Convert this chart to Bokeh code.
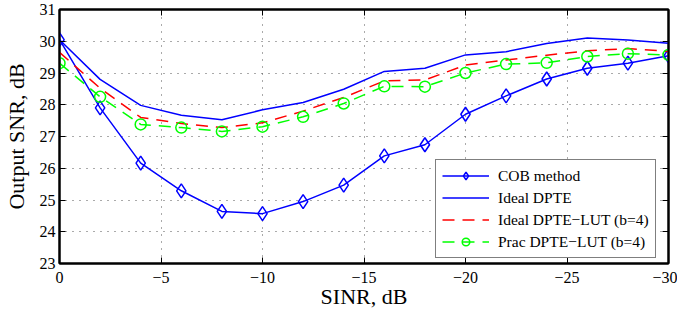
from bokeh.plotting import figure
from bokeh.models import Range1d, LinearAxis, FixedTicker, Legend, LegendItem
from bokeh.embed import file_html
from bokeh.resources import INLINE

sinr = [0, -2, -4, -6, -8, -10, -12, -14, -16, -18, -20, -22, -24, -26, -28, -30]
cob = [30.05, 27.90, 26.16, 25.29, 24.64, 24.57, 24.95, 25.47, 26.39, 26.74, 27.70, 28.28, 28.81, 29.15, 29.31, 29.54]
ideal_dpte = [30.05, 28.80, 27.98, 27.67, 27.53, 27.84, 28.07, 28.49, 29.05, 29.15, 29.57, 29.67, 29.93, 30.10, 30.04, 29.94]
ideal_lut = [29.65, 28.52, 27.60, 27.41, 27.28, 27.43, 27.80, 28.23, 28.75, 28.78, 29.25, 29.41, 29.56, 29.70, 29.77, 29.68]
prac_lut = [29.31, 28.25, 27.38, 27.28, 27.16, 27.31, 27.62, 28.04, 28.58, 28.57, 29.00, 29.28, 29.32, 29.52, 29.61, 29.57]

x_ticks = [0, -5, -10, -15, -20, -25, -30]
x_tick_labels = ["0", "\u22125", "\u221210", "\u221215", "\u221220", "\u221225", "\u221230"]
y_ticks = [23, 24, 25, 26, 27, 28, 29, 30, 31]

FONT = "Liberation Serif"

p = figure(width=677, height=314, output_backend="svg", toolbar_location=None,
           x_range=Range1d(0, -30), y_range=Range1d(23, 31),
           min_border_left=57, min_border_right=9, min_border_top=9, min_border_bottom=51,
           x_axis_label="SINR, dB", y_axis_label="Output SNR, dB")
p.background_fill_color = "white"
p.border_fill_color = "white"
p.outline_line_color = "black"
p.outline_line_width = 2

p.xaxis.ticker = FixedTicker(ticks=x_ticks)
p.xaxis.major_label_overrides = {t: l for t, l in zip(x_ticks, x_tick_labels)}
p.yaxis.ticker = FixedTicker(ticks=y_ticks)

for ax in [p.xaxis[0], p.yaxis[0]]:
    ax.major_tick_in = 6
    ax.major_tick_out = 0
    ax.minor_tick_in = 0
    ax.minor_tick_out = 0
    ax.axis_line_width = 2
    ax.major_tick_line_width = 1
    ax.major_label_text_font = FONT
    ax.major_label_text_font_size = "16px"
    ax.major_label_text_color = "black"
    ax.axis_label_text_font = FONT
    ax.axis_label_text_font_size = "22px"
    ax.axis_label_text_font_style = "normal"
    ax.axis_label_text_color = "black"
p.yaxis.major_label_standoff = 4
p.yaxis.axis_label_standoff = 8
p.xaxis.major_label_standoff = 8
p.xaxis.axis_label_standoff = -2

top = LinearAxis(ticker=FixedTicker(ticks=x_ticks), major_tick_in=6, major_tick_out=0,
                 minor_tick_in=0, minor_tick_out=0, major_label_text_font_size="1px",
                 major_label_text_color=None, major_label_standoff=0, axis_line_width=2)
right = LinearAxis(ticker=FixedTicker(ticks=y_ticks), major_tick_in=6, major_tick_out=0,
                   minor_tick_in=0, minor_tick_out=0, major_label_text_font_size="1px",
                   major_label_text_color=None, major_label_standoff=0, axis_line_width=2)
p.add_layout(top, "above")
p.add_layout(right, "right")

p.xgrid.ticker = FixedTicker(ticks=x_ticks)
p.ygrid.ticker = FixedTicker(ticks=y_ticks)
for g in [p.xgrid[0], p.ygrid[0]]:
    g.grid_line_color = "#555555"
    g.grid_line_dash = "1 6"
    g.grid_line_width = 1

l1 = p.line(sinr, cob, line_color="#0000ff", line_width=1.5)
m1 = p.scatter(sinr, cob, marker="diamond", size=14, line_color="#0000ff", line_width=1.5, fill_color=None)
l2 = p.line(sinr, ideal_dpte, line_color="#0000ff", line_width=1.5)
l3 = p.line(sinr, ideal_lut, line_color="#ff0000", line_width=1.5, line_dash="12 8")
l4 = p.line(sinr, prac_lut, line_color="#00ff00", line_width=1.5, line_dash="12 8")
m4 = p.scatter(sinr, prac_lut, marker="circle", size=11, line_color="#00ff00", line_width=1.5, fill_color=None)

legend = Legend(items=[
    LegendItem(label="COB method", renderers=[l1, m1]),
    LegendItem(label="Ideal DPTE", renderers=[l2]),
    LegendItem(label="Ideal DPTE\u2212LUT (b=4)", renderers=[l3]),
    LegendItem(label="Prac DPTE\u2212LUT (b=4)", renderers=[l4, m4]),
], location=(376, 5))
legend.label_text_font = FONT
legend.label_text_font_size = "15.5px"
legend.label_text_color = "black"
legend.glyph_width = 47
legend.glyph_height = 19
legend.label_height = 19
legend.label_standoff = 9
legend.spacing = 3
legend.padding = 6
legend.margin = 0
legend.border_line_color = "black"
legend.border_line_width = 1.5
legend.background_fill_color = "white"
legend.background_fill_alpha = 1
p.add_layout(legend, "center")

open("out.html", "w").write(file_html(p, INLINE))
